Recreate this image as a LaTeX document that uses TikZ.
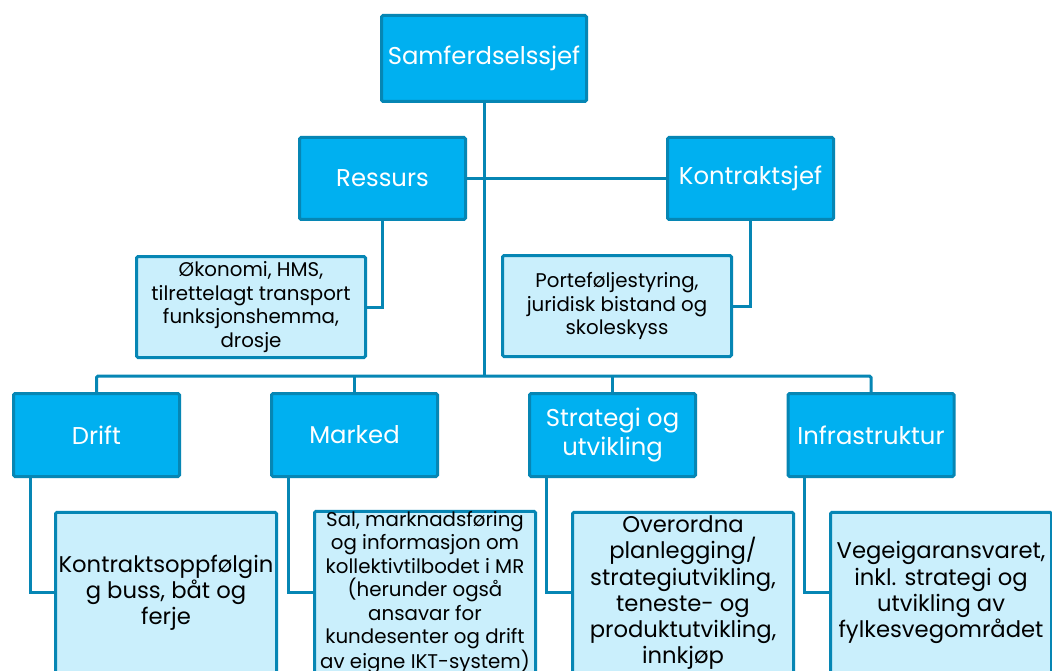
\documentclass[tikz,border=0pt]{standalone}
\usepackage{fontspec}
\setmainfont{Poppins}
\definecolor{darkbox}{RGB}{0,176,240}
\definecolor{boxline}{RGB}{6,134,180}
\definecolor{lightbox}{RGB}{202,239,252}
\begin{document}
\begin{tikzpicture}[x=1pt,y=-1pt,
  headbox/.style={draw=boxline, line width=3pt, fill=darkbox, rounded corners=1.5pt,
    text=white, align=center, inner sep=0pt, font=\fontsize{24.3}{29}\selectfont},
  infobox/.style={draw=boxline, line width=3pt, fill=lightbox, rounded corners=1.5pt,
    text=black, align=center, inner sep=0pt, font=\fontsize{22.7}{26.3}\selectfont},
  smallinfo/.style={infobox, font=\fontsize{19.8}{23.5}\selectfont},
  link/.style={draw=boxline, line width=3pt}]
\useasboundingbox (0,0) rectangle (1052,671);
\fill[white] (0,0) rectangle (1052,671);

\node[headbox, minimum width=205pt, minimum height=86pt] (top) at (484,58.5) {Samferdselssjef};
\node[headbox, minimum width=166pt, minimum height=82pt] (res) at (382.5,178.5) {Ressurs};
\node[headbox, minimum width=166pt, minimum height=82pt] (kon) at (750.5,178.5) {Kontraktsjef};

\node[smallinfo, minimum width=229pt, minimum height=101pt] (oko) at (251,307)
  {Økonomi, HMS,\\tilrettelagt transport\\funksjonshemma,\\drosje};
\node[smallinfo, minimum width=229pt, minimum height=101pt] (port) at (617,306)
  {Porteføljestyring,\\juridisk bistand og\\skoleskyss};

\node[headbox, minimum width=166pt, minimum height=83pt] (drift) at (96.5,435) {Drift};
\node[headbox, minimum width=166pt, minimum height=83pt] (mark) at (354.5,435) {Marked};
\node[headbox, minimum width=166pt, minimum height=83pt] (strat) at (612.5,435) {Strategi og\\utvikling};
\node[headbox, minimum width=166pt, minimum height=83pt] (infra) at (871,435) {Infrastruktur};

\node[infobox, minimum width=221pt, minimum height=161pt] (kb) at (166,592.75)
  {Kontraktsoppfølgin\\g buss, båt og\\ferje};
\node[smallinfo, minimum width=221pt, minimum height=161pt] (sb) at (425,592.75)
  {Sal, marknadsføring\\og informasjon om\\kollektivtilbodet i MR\\(herunder også\\ansavar for\\kundesenter og drift\\av eigne IKT-system)};
\node[infobox, minimum width=221pt, minimum height=161pt] (ob) at (683,592.75)
  {Overordna\\planlegging/\\strategiutvikling,\\teneste- og\\produktutvikling,\\innkjøp};
\node[infobox, minimum width=221pt, minimum height=161pt] (vb) at (941,592.75)
  {Vegeigaransvaret,\\inkl. strategi og\\utvikling av\\fylkesvegområdet};

\coordinate (bus) at (484,376);

% connectors
\draw[link] (top.south) -- (bus);
\draw[link] (res.east) -- (kon.west);
\draw[link] (res.south) |- (oko.east);
\draw[link] (kon.south) |- (port.east);
\draw[link, rounded corners=1.5pt] (drift.north) |- (bus) -| (infra.north);
\draw[link] (mark.north) -- (mark.north |- bus);
\draw[link] (strat.north) -- (strat.north |- bus);
\draw[link] ([xshift=18pt]drift.south west) |- (kb.west);
\draw[link] ([xshift=18pt]mark.south west) |- (sb.west);
\draw[link] ([xshift=18pt]strat.south west) |- (ob.west);
\draw[link] ([xshift=18pt]infra.south west) |- (vb.west);
\end{tikzpicture}
\end{document}
